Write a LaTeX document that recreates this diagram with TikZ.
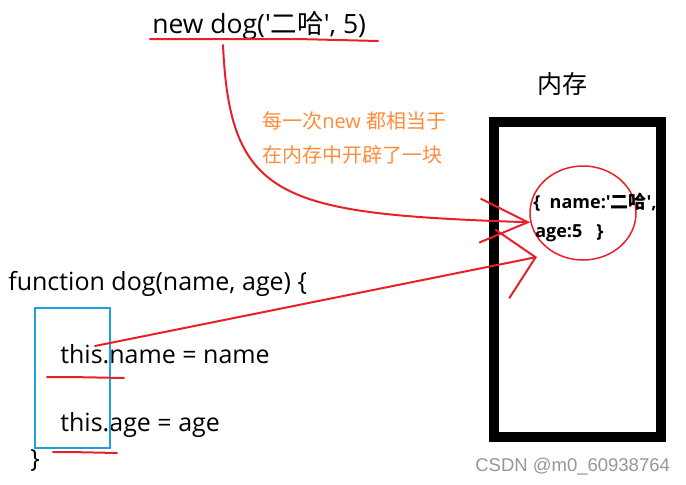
\documentclass[tikz,border=0pt]{standalone}
\usepackage{fontspec}
\setmainfont{Open Sans}[Ligatures=TeXOff]
\newfontfamily\cjk{Noto Sans CJK SC}[Ligatures=TeXOff]
\newfontfamily\wmfont{Liberation Sans}
\usetikzlibrary{arrows.meta,positioning,shapes.geometric}
\definecolor{inkred}{RGB}{232,32,42}
\definecolor{noteorange}{RGB}{255,140,60}
\definecolor{boxblue}{RGB}{30,160,226}
\definecolor{wmgray}{RGB}{150,150,150}

\begin{document}
\begin{tikzpicture}[x=1pt,y=-1pt,semithick,
	code/.style={anchor=west,inner sep=0pt,font=\fontsize{25}{30}\selectfont},
	note/.style={anchor=west,inner sep=0pt,text=noteorange,font=\fontsize{20}{24}\selectfont},
	objtext/.style={anchor=west,inner sep=0pt,font=\bfseries\fontsize{18}{21}\selectfont},
	membox/.style={draw=black,line width=10pt,minimum width=167pt,minimum height=315pt,inner sep=0pt},
	objcircle/.style={draw=inkred,ellipse,line width=1.5pt,minimum width=106pt,minimum height=94pt,inner sep=0pt},
	redline/.style={draw=inkred,line width=2pt,line cap=round,line join=round}]
	\useasboundingbox (0,0) rectangle (686,485);

	\node[membox]		(mem)		at (577.5,279.5)	{};
	\node[font=\cjk\fontsize{25}{30}\selectfont]	(memlabel)	at (562,84)	{内存};
	\node[objcircle]	(obj)		at (583,213)		{};
	\node[objtext]		(objname)	at (533,202)		{\{\ \ name:'{\cjk 二哈}',};
	\node[objtext]		(objage)	at (535,233)		{age:5\ \ \ \}};

	\node[code,font=\fontsize{26.5}{31}\selectfont]	(newcall)	at (152,26)	{new dog('{\cjk 二哈}', 5)};
	\node[note]			(note1)		at (262,121)	{{\cjk 每一次}new {\cjk 都相当于}};
	\node[note]			(note2)		at (262,155)	{\cjk 在内存中开辟了一块};

	\node[code]			(func)		at (8,284)		{function dog(name, age) \{};
	\node[code]			(thisname)	at (60,354)		{this.name = name};
	\node[code]			(thisage)	at (60,425)		{this.age = age};
	\node[code]			(close)		at (30,461)		{\}};
	\node[anchor=west,inner sep=0pt,text=wmgray,font=\wmfont\fontsize{18.5}{22}\selectfont]	(csdn)	at (475,467)	{CSDN @m0\_60938764};

	\coordinate (newtail)	at (223,45);
	\coordinate (thisstart)	at (95,346);
	\coordinate (agehit)	at (537,257);

	% highlight box and underlines
	\draw[boxblue,line width=1.5pt] (35,308) rectangle (110,448);
	\draw[redline] (150,39) -- (195,39) -- (297,39) -- (378,41);
	\draw[redline] (47,377) -- (70,377) -- (124,378);
	\draw[redline] (53,452) -- (70,452) -- (117,453);

	\draw[redline,-{Straight Barb[length=48pt,width=44pt]}]
		(newtail) .. controls (230,200) and (280,214) .. (obj.190);
	\draw[redline,-{Straight Barb[length=34pt,width=70pt]}]
		(thisstart) -- (agehit);
\end{tikzpicture}
\end{document}
